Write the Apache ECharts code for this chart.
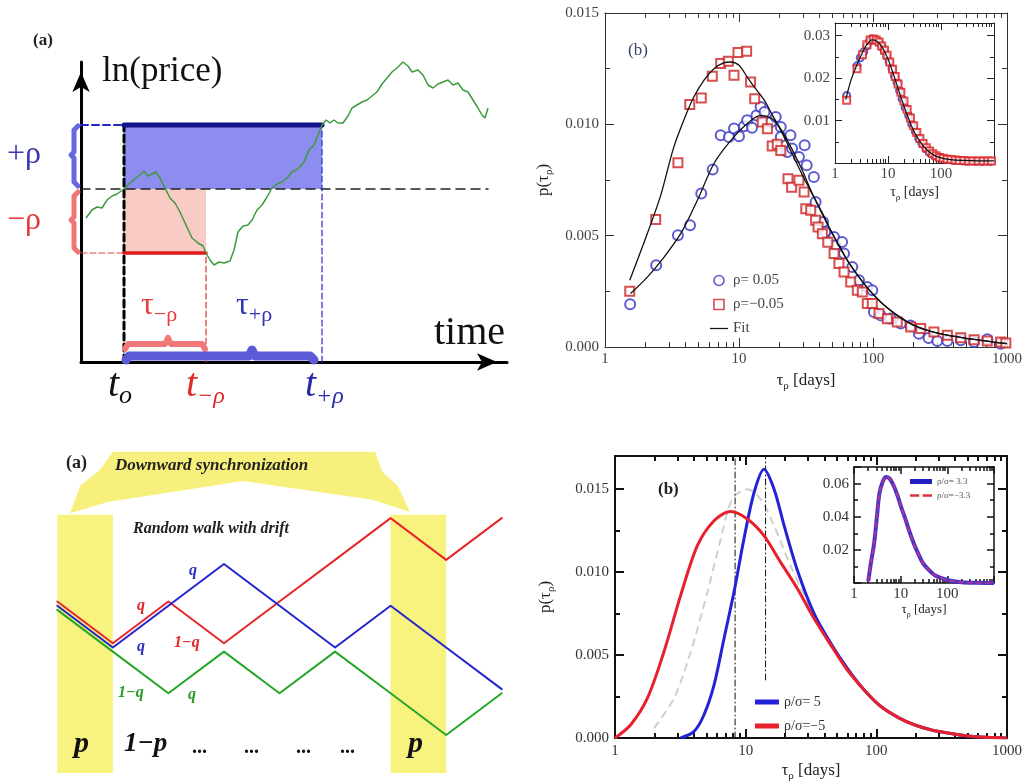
<!DOCTYPE html>
<html>
<head>
<meta charset="utf-8">
<script src="https://cdn.jsdelivr.net/npm/echarts@6/dist/echarts.min.js"></script>
<style>html,body{margin:0;padding:0;background:#fff}#chart{width:1028px;height:783px}</style>
</head>
<body>
<div id="chart"></div>
<script>
var SERIF = "'Liberation Serif', 'DejaVu Serif', serif";

// ---- (a) top: first passage schematic (units: time / ln price)
var pathT = [5,11,16,21,26,31,36,43,49,55,59,63,67,71,75,79,84,89,94,99,105,111,117,122,125,129,133,138,143,149,153,157,162,167,171,176,181,186,191,196,201,206,211,215,219,223,228,233,237,241,245,249,253,257,262,267,271,276,281,286,291,296,301,306,311,316,322,327,331,337,342,347,352,357,362,367,372,377,382,387,392,397,401,404,407];
var pathP = [144,152,155,154,162,166,168,173,179,184,187,191,186,188,190,184,174,164,159,150,137,124,119,116,109,102,97,100,99,101,112,130,136,137,142,152,157,165,174,178,180,184,190,192,195,200,212,217,227,237,242,239,242,239,239,246,254,257,260,262,266,270,278,284,290,294,300,296,290,292,287,277,274,278,280,282,277,279,272,270,262,254,247,244,254];
var t0 = 43, tMinus = 125, tPlus = 241, baseEnd = 407;
var levelBase = 173, levelUp = 237, levelDown = 109;
// braces beside the price axis (offset left of the axis)
var braceUpX = [-3,-7,-7,-10,-7,-7,-3], braceUpY = [236,232,210,207,204,180,176];
var braceDnX = [-3,-7,-7,-10,-7,-7,-3], braceDnY = [170,166,145,142,139,114,110];
var braceTauMinusX = [44,47,84,87,90,121,124], braceTauMinusY = [13,18,18,24,18,18,13];
var braceTauPlusX = [45,48,168,171,174,229,233], braceTauPlusY = [2,6,6,12,6,6,2];

// ---- (b) top: empirical inverse statistics
var posTau = [1.54,2.41,3.5,4.31,5.23,6.36,7.3,8.4,9.18,10,10.9,11.5,12.5,13.5,14.5,15.5,17.3,18.8,20.5,20.5,22.9,24.2,24.9,28,30.9,32,36.2,37.3,42.4,44,51.2,52.6,58.8,60.8,70,78.6,90.6,98.8,101.6,114,135,161,191,220,260,302,359,452,568,713,897];
var posP = [0.00192,0.00367,0.00502,0.00547,0.00689,0.00797,0.00951,0.00943,0.00981,0.00946,0.00991,0.01018,0.00985,0.0104,0.01078,0.01055,0.0101,0.01033,0.00988,0.00943,0.00876,0.00951,0.00891,0.00853,0.00906,0.00816,0.00763,0.00651,0.00561,0.00516,0.00494,0.00457,0.00472,0.0042,0.00359,0.003,0.00269,0.00255,0.00157,0.00142,0.00128,0.00105,0.00096,0.0006,0.0004,0.00027,0.00027,0.0003,0.00022,0.00035,0.00015];
var negTau = [1.53,2.39,3.5,4.29,5.23,6.32,7.3,8.32,9.18,9.83,11.4,12.2,13.1,14.9,16.3,17.7,19.3,20.5,23.2,24.7,28,30.6,31.5,34.3,37.3,38.9,41.9,46,51.2,55.7,60.8,68.2,76.4,83.2,90.7,98.8,110.9,128,151.8,191,227,285,359,452,568,713,897,980];
var negP = [0.0025,0.00573,0.00828,0.01089,0.01118,0.01216,0.01273,0.01283,0.0122,0.01323,0.01328,0.0119,0.01115,0.0101,0.0098,0.00903,0.0091,0.00883,0.00756,0.00718,0.00749,0.00696,0.00621,0.00614,0.00569,0.00539,0.00509,0.0047,0.0042,0.00375,0.00337,0.00292,0.00255,0.00247,0.00195,0.00195,0.0015,0.00127,0.00112,0.0009,0.00083,0.00067,0.00053,0.00042,0.00033,0.00027,0.00022,0.00018];
var fitNegTau = [1.53,2.07,2.6,3.27,4,4.6,5.5,6.5,7.6,8.7,10,11.5,13.3,15.4,17.8,20.5,23.5,27,31,36.2,42,48.3,56,64.2,74,85.6,99,114,132,151.8,175,202,270,359,480,636,800,1000];
var fitNegP = [0.003,0.0051,0.0068,0.009,0.0104,0.01123,0.012,0.0125,0.01275,0.0128,0.01265,0.01213,0.0116,0.0111,0.0104,0.00973,0.009,0.00824,0.0075,0.00674,0.006,0.00524,0.00455,0.0039,0.00335,0.00285,0.0024,0.00202,0.0017,0.00142,0.00118,0.00097,0.0007,0.00053,0.0004,0.0003,0.00022,0.00015];
var fitPosTau = [1.55,2.07,2.76,3.68,4.89,6.5,8.7,11.5,14.5,18.3,22.9,28.9,36.2,48.3,64.2,85.6,114,151.8,202,270,359,480,636,800,1000];
var fitPosP = [0.0024,0.00314,0.00404,0.0051,0.00659,0.00824,0.00928,0.01003,0.0104,0.01018,0.00928,0.00808,0.00674,0.00524,0.0039,0.00285,0.00202,0.00142,0.00097,0.0007,0.00053,0.0004,0.0003,0.00022,0.00015];
// inset
var inPosTau = [1.66,2.6,3.0,3.5,4.0,4.5,4.97,5.5,6.2,6.9,7.7,8.5,9.5,10.5,11.9,13.2,14.8,16.5,18.4,21,24.5,28,32.7,38,43.6,52,62.9,75,96,120,173,250,310,450,600,880];
var inPosP = [0.0159,0.0229,0.0248,0.0262,0.0276,0.0287,0.0292,0.0291,0.0289,0.0283,0.0274,0.0265,0.0252,0.0238,0.0222,0.0205,0.019,0.0171,0.0151,0.0131,0.0112,0.0092,0.0074,0.0058,0.0046,0.0033,0.0023,0.0017,0.0012,0.0009,0.0006,0.0005,0.0004,0.0004,0.0004,0.0004];
var inNegTau = [1.66,2.6,3.3,4.0,4.6,5.3,6.0,6.8,7.6,8.6,9.6,10.8,12.2,13.7,15.5,17.5,20,23,26.5,30.5,35,40,46,53,61,70,81,94,110,130,155,185,220,270,330,400,500,620,760,900];
var inNegP = [0.0148,0.0222,0.0255,0.0279,0.029,0.0292,0.029,0.0285,0.0276,0.0266,0.0254,0.0238,0.0221,0.0204,0.0186,0.0167,0.0146,0.0126,0.0106,0.0088,0.0072,0.0058,0.0046,0.0036,0.0028,0.0022,0.0017,0.0013,0.0011,0.0009,0.0008,0.0007,0.0006,0.0006,0.0005,0.0005,0.0005,0.0005,0.0005,0.0005];
var inFitTau = [1.6,2,2.6,3.2,4,5,6,7.5,10,13,17,22,30,40,55,75,100,150,250,500,1000];
var inFitP = [0.015,0.0195,0.0232,0.0257,0.0279,0.029,0.0288,0.0276,0.0245,0.0205,0.016,0.012,0.0078,0.0051,0.003,0.0018,0.0012,0.0008,0.0006,0.0005,0.0005];

// ---- (a) bottom: random walks (units: lattice steps)
var walkX = [0,1,2,3,4,5,6,7,8];
var redWalk = [3.2,2.2,3.2,2.2,3.2,4.2,5.2,4.2,5.2];
var blueWalk = [3.1,2.1,3.1,4.1,3.1,2.1,3.1,2.1,1.1];
var greenWalk = [3,2,1,2,1,2,1,0,1];
var bandX = [[0,1],[6,7]];
var bandY = [-0.91, 5.28];
var bannerX = [1.0,5.72,5.85,6.13,6.35,5.67,3.34,0.91,0.23,0.41,0.77];
var bannerY = [6.79,6.79,6.31,5.97,5.35,5.64,6.09,5.59,5.32,5.97,6.36];

// ---- (b) bottom: model curves
var redTau = [1,1.32,1.77,2.37,3.18,4.27,5.73,7.68,10.3,13.8,18.5,24.9,33.4,44.9,60,80.7,108.5,150,195,260,352,500,700,1000];
var redP = [0,0.0008,0.0024,0.0052,0.0086,0.0116,0.0131,0.01365,0.0132,0.0122,0.0106,0.009,0.0072,0.0056,0.0041,0.0029,0.0019,0.0012,0.0008,0.0005,0.0003,0.00012,0.00004,0];
var blueTau = [3.18,4.03,4.8,5.73,6.83,8.14,9.7,11.6,13.8,16.5,19.7,24.9,33.4,44.9,60,80.7,108.5,150,195,260,352,500,700,1000];
var blueP = [0,0.0004,0.0014,0.0032,0.006,0.0088,0.012,0.0148,0.0162,0.015,0.0128,0.0101,0.0075,0.0057,0.0042,0.0029,0.0019,0.0012,0.0008,0.0005,0.0003,0.00012,0.00004,0];
var grayTau = [1.99,2.83,3.8,5.1,6.45,7.9,10.3,13,16.5,22,33.4,44.9,60,80.7,108.5,150,195,260,352,500,1000];
var grayP = [0.0006,0.0024,0.0052,0.0088,0.012,0.0144,0.015,0.0144,0.0128,0.0104,0.0074,0.0056,0.0041,0.0029,0.0019,0.0012,0.0008,0.0005,0.0003,0.00012,0];
var vlineTau = [8.3, 14.2];
var vlineLow = [0, 0.0035];
var insetBTau = [2.02,2.3,2.7,3.1,3.5,4.1,4.8,5.8,7.0,8.5,10.2,12.5,15,19,23.5,30,40,55,75,110,200,400,1000];
var insetBP = [0.001,0.012,0.024,0.04,0.054,0.061,0.064,0.063,0.059,0.053,0.046,0.039,0.032,0.024,0.018,0.012,0.008,0.0045,0.003,0.0015,0.0004,0.0001,0];

var minorTicks = [2,3,4,5,6,7,8,9,20,30,40,50,60,70,80,90,200,300,400,500,600,700,800,900];

function zip(a, b) { return a.map(function (v, i) { return [v, b[i]]; }); }

var xAxis = [], yAxis = [];
var off = {show: false};

// schematic axes
xAxis.push({gridIndex: 0, type: 'value', min: 0, max: 426,
  axisLine: {show: true, onZero: false, symbol: ['none', 'arrow'], symbolSize: [13, 20], symbolOffset: [0, -10], lineStyle: {color: '#000', width: 3}},
  axisTick: off, axisLabel: off, splitLine: off});
yAxis.push({gridIndex: 0, type: 'value', min: 0, max: 300,
  axisLine: {show: true, onZero: false, symbol: ['none', 'arrow'], symbolSize: [13, 20], symbolOffset: [0, -10], lineStyle: {color: '#000', width: 3}},
  axisTick: off, axisLabel: off, splitLine: off});
xAxis.push({gridIndex: 3, type: 'value', min: 0, max: 8.5, show: false});
yAxis.push({gridIndex: 3, type: 'value', min: -1, max: 7, show: false});

function tauName(size, sub) {
  return {t: {fontSize: size, fontFamily: SERIF, color: '#222', verticalAlign: 'middle', lineHeight: size + 6},
          s: {fontSize: sub, fontFamily: SERIF, color: '#222', verticalAlign: 'bottom', lineHeight: size + 6}};
}

function frame(gi, o) {
  var xi = xAxis.length, yi = yAxis.length;
  var ls = {color: o.color, width: o.lw};
  var line = {show: true, onZero: false, lineStyle: ls};
  var lab = {fontFamily: SERIF, fontSize: o.fs, color: o.labColor, margin: o.xMargin,
    formatter: function (v) { return (o.hideMax && v >= o.xmax) ? '' : String(v); }};
  xAxis.push({gridIndex: gi, type: 'log', logBase: 10, min: o.xmin, max: o.xmax, position: 'bottom',
    axisLine: line, axisTick: {inside: true, length: o.major, lineStyle: ls}, axisLabel: lab, splitLine: off,
    name: o.xName, nameLocation: 'middle', nameGap: o.xGap, nameTextStyle: {rich: tauName(o.nameFs, o.nameSub)}});
  xAxis.push({gridIndex: gi, type: 'log', logBase: 10, min: o.xmin, max: o.xmax, position: 'top',
    axisLine: line, axisTick: {inside: true, length: o.major, lineStyle: ls}, axisLabel: off, splitLine: off});
  ['bottom', 'top'].forEach(function (pos) {
    xAxis.push({gridIndex: gi, type: 'value', min: 0, max: 3, position: pos,
      axisLine: {show: false, onZero: false},
      axisTick: {inside: true, length: o.minor, lineStyle: ls, customValues: minorTicks.map(Math.log10)},
      axisLabel: off, splitLine: off});
  });
  var yfmt = function (v) {
    var ok = o.yLabels.some(function (t) { return Math.abs(t - v) < 1e-9; });
    return ok ? v.toFixed(o.yDec) : '';
  };
  yAxis.push({gridIndex: gi, type: 'value', min: o.ymin, max: o.ymax, interval: o.yint, position: 'left',
    axisLine: line, axisTick: {inside: true, length: o.major, lineStyle: ls},
    minorTick: {show: true, splitNumber: 2, length: o.minor, lineStyle: ls},
    axisLabel: {fontFamily: SERIF, fontSize: o.fs, color: o.labColor, margin: o.yMargin, formatter: yfmt},
    splitLine: off, minorSplitLine: off,
    name: o.yName, nameLocation: 'middle', nameGap: o.yGap, nameTextStyle: {rich: tauName(o.nameFs, o.nameSub)}});
  yAxis.push({gridIndex: gi, type: 'value', min: o.ymin, max: o.ymax, interval: o.yint, position: 'right',
    axisLine: line, axisTick: {inside: true, length: o.major, lineStyle: ls},
    minorTick: {show: true, splitNumber: 2, length: o.minor, lineStyle: ls},
    axisLabel: off, splitLine: off, minorSplitLine: off});
  return {x: xi, y: yi};
}

var fTop = frame(1, {xmin: 1, xmax: 1000, ymin: 0, ymax: 0.015, yint: 0.005, yLabels: [0, 0.005, 0.01, 0.015], yDec: 3,
  color: '#333', lw: 1, major: 9, minor: 5, fs: 15, labColor: '#444', xMargin: 5, yMargin: 6,
  xName: '{t|τ}{s|ρ}{t| [days]}', xGap: 22, yName: '{t|p(τ}{s|ρ}{t|)}', yGap: 50, nameFs: 17, nameSub: 11});
var fTopIn = frame(2, {xmin: 1, xmax: 1000, ymin: 0, ymax: 0.033, yint: 0.01, yLabels: [0.01, 0.02, 0.03], yDec: 2,
  color: '#222', lw: 1, major: 7, minor: 4, fs: 15, labColor: '#444', xMargin: 4, yMargin: 5, hideMax: true,
  xName: '{t|τ}{s|ρ}{t| [days]}', xGap: 19, nameFs: 14, nameSub: 9});
var fBot = frame(4, {xmin: 1, xmax: 1000, ymin: 0, ymax: 0.017, yint: 0.005, yLabels: [0, 0.005, 0.01, 0.015], yDec: 3,
  color: '#111', lw: 2, major: 9, minor: 5, fs: 15, labColor: '#333', xMargin: 6, yMargin: 6,
  xName: '{t|τ}{s|ρ}{t| [days]}', xGap: 21, yName: '{t|p(τ}{s|ρ}{t|)}', yGap: 58, nameFs: 17, nameSub: 11});
var fBotIn = frame(5, {xmin: 1, xmax: 1000, ymin: 0, ymax: 0.07, yint: 0.02, yLabels: [0.02, 0.04, 0.06], yDec: 2,
  color: '#111', lw: 1.5, major: 7, minor: 4, fs: 15, labColor: '#333', xMargin: 4, yMargin: 5, hideMax: true,
  xName: '{t|τ}{s|ρ}{t| [days]}', xGap: 14, nameFs: 13, nameSub: 8});

// strip left of the price axis, same vertical scale, for the ±ρ braces
var braceX = xAxis.length, braceY = yAxis.length;
xAxis.push({gridIndex: 6, type: 'value', min: -21, max: 0, show: false});
yAxis.push({gridIndex: 6, type: 'value', min: 0, max: 300, show: false});

function seg(xi, yi, pts, color, width, type, z) {
  return {type: 'line', xAxisIndex: xi, yAxisIndex: yi, data: pts, symbol: 'none', silent: true, clip: false,
    lineStyle: {color: color, width: width, type: type || 'solid', cap: 'round', join: 'round'}, z: z || 3};
}
function rectSeries(xi, yi, data, colors, z) {
  return {type: 'custom', xAxisIndex: xi, yAxisIndex: yi, data: data, silent: true, z: z || 1, clip: false,
    renderItem: function (p, api) {
      var a = api.coord([api.value(0), api.value(1)]);
      var b = api.coord([api.value(2), api.value(3)]);
      return {type: 'rect', shape: {x: Math.min(a[0], b[0]), y: Math.min(a[1], b[1]), width: Math.abs(b[0] - a[0]), height: Math.abs(b[1] - a[1])},
        style: {fill: colors[api.value(4)]}};
    }};
}

var series = [];
// ---- top-left schematic
series.push(rectSeries(0, 0, [[t0, levelBase, tPlus, levelUp, 0], [t0, levelDown, tMinus, levelBase, 1]], ['#8d8def', '#f8ccc5']));
series.push(seg(0, 0, [[0, levelBase], [baseEnd, levelBase]], '#222', 1.5, [9, 6]));
series.push(seg(0, 0, [[0, levelUp], [t0, levelUp]], '#2626c8', 2, [7, 4]));
series.push(seg(0, 0, [[0, levelDown], [t0, levelDown]], '#e04848', 1.2, [6, 3]));
series.push(seg(0, 0, [[t0, 0], [t0, levelUp]], '#000', 3, [7, 4]));
series.push(seg(0, 0, [[tMinus, 0], [tMinus, levelDown]], '#e03030', 1.2, [6, 3]));
series.push(seg(0, 0, [[tPlus, 0], [tPlus, levelUp]], '#2a2ad0', 1.2, [6, 3]));
series.push(seg(0, 0, [[t0, levelUp], [tPlus, levelUp]], '#12128a', 5));
series.push(seg(0, 0, [[t0, levelDown], [tMinus, levelDown]], '#e01818', 3.5));
// braces
series.push(seg(braceX, braceY, zip(braceUpX, braceUpY), '#6767de', 5));
series.push(seg(braceX, braceY, zip(braceDnX, braceDnY), '#f07676', 5));
series.push(seg(0, 0, zip(braceTauMinusX, braceTauMinusY), '#f07878', 6));
series.push(seg(0, 0, zip(braceTauPlusX, braceTauPlusY), '#5b5bd8', 9));
series.push({type: 'line', xAxisIndex: 0, yAxisIndex: 0, data: zip(pathT, pathP), symbol: 'none', silent: true, clip: false,
  lineStyle: {color: '#3d9a3d', width: 1.5}, z: 4});

// ---- top-right data
var T = fTop, TI = fTopIn;
series.push({name: 'ρ= 0.05', type: 'scatter', xAxisIndex: T.x, yAxisIndex: T.y, data: zip(posTau, posP),
  symbol: 'emptyCircle', symbolSize: 10, itemStyle: {color: '#3333c4', borderWidth: 1.3}, z: 3});
series.push({name: 'ρ=−0.05', type: 'scatter', xAxisIndex: T.x, yAxisIndex: T.y, data: zip(negTau, negP),
  symbol: 'emptyRect', symbolSize: 9, itemStyle: {color: '#cc2222', borderWidth: 1.3}, z: 3});
series.push({name: 'Fit', type: 'line', xAxisIndex: T.x, yAxisIndex: T.y, data: zip(fitNegTau, fitNegP), symbol: 'none', smooth: 0.3,
  lineStyle: {color: '#111', width: 1.3}, itemStyle: {color: '#111'}, z: 4});
series.push({name: 'Fit', type: 'line', xAxisIndex: T.x, yAxisIndex: T.y, data: zip(fitPosTau, fitPosP), symbol: 'none', smooth: 0.3,
  lineStyle: {color: '#111', width: 1.3}, itemStyle: {color: '#111'}, z: 4});
series.push({type: 'scatter', xAxisIndex: TI.x, yAxisIndex: TI.y, data: zip(inPosTau, inPosP),
  symbol: 'emptyCircle', symbolSize: 7, itemStyle: {color: '#3333c4', borderWidth: 1.2}, z: 3});
series.push({type: 'scatter', xAxisIndex: TI.x, yAxisIndex: TI.y, data: zip(inNegTau, inNegP),
  symbol: 'emptyRect', symbolSize: 7, itemStyle: {color: '#dd2222', borderWidth: 1.3}, z: 3});
series.push({type: 'line', xAxisIndex: TI.x, yAxisIndex: TI.y, data: zip(inFitTau, inFitP), symbol: 'none', smooth: 0.3,
  lineStyle: {color: '#111', width: 1.2}, z: 4});

// ---- bottom-left schematic
var bandRects = bandX.map(function (b) { return [b[0], bandY[0], b[1], bandY[1], 0]; });
series.push(rectSeries(1, 1, bandRects, ['#f8f27e'], 1));
series.push({type: 'custom', xAxisIndex: 1, yAxisIndex: 1, data: [[bannerX[0], bannerY[0]]], silent: true, z: 1, clip: false,
  renderItem: function (p, api) {
    var pts = bannerX.map(function (x, i) { return api.coord([x, bannerY[i]]); });
    return {type: 'polygon', shape: {points: pts}, style: {fill: '#f8f07c'}};
  }});
series.push(seg(1, 1, zip(walkX, redWalk), '#e8262a', 2));
series.push(seg(1, 1, zip(walkX, blueWalk), '#2424d0', 2));
series.push(seg(1, 1, zip(walkX, greenWalk), '#26a626', 2));

// ---- bottom-right data
var B = fBot, BI = fBotIn;
series.push({type: 'line', xAxisIndex: B.x, yAxisIndex: B.y, data: zip(grayTau, grayP), symbol: 'none', smooth: 0.3,
  lineStyle: {color: '#cfcfcf', width: 2, type: [8, 5]}, z: 2});
vlineTau.forEach(function (t, i) {
  series.push(seg(B.x, B.y, [[t, vlineLow[i]], [t, 0.017]], '#111', 1, [6, 3, 1, 3], 2));
});
series.push({name: 'ρ/σ= 5', type: 'line', xAxisIndex: B.x, yAxisIndex: B.y, data: zip(blueTau, blueP), symbol: 'none', smooth: 0.3,
  lineStyle: {color: '#2222d8', width: 3}, itemStyle: {color: '#2222d8'}, z: 3});
series.push({name: 'ρ/σ=−5', type: 'line', xAxisIndex: B.x, yAxisIndex: B.y, data: zip(redTau, redP), symbol: 'none', smooth: 0.3,
  lineStyle: {color: '#e8202c', width: 3}, itemStyle: {color: '#e8202c'}, z: 4});
series.push({name: 'ρ/σ= 3.3', type: 'line', xAxisIndex: BI.x, yAxisIndex: BI.y, data: zip(insetBTau, insetBP), symbol: 'none', smooth: 0.3,
  lineStyle: {color: '#4a34c4', width: 4}, itemStyle: {color: '#2020c0'}, z: 3});
series.push({name: 'ρ/σ=−3.3', type: 'line', xAxisIndex: BI.x, yAxisIndex: BI.y, data: zip(insetBTau, insetBP), symbol: 'none', smooth: 0.3,
  lineStyle: {color: '#d0308c', width: 1.5, type: [6, 3]}, itemStyle: {color: '#e03040'}, z: 4});

function txt(x, y, text, font, fill, extra) {
  var s = {text: text, font: font, fill: fill || '#111', textAlign: 'left', textVerticalAlign: 'middle'};
  if (extra) for (var k in extra) s[k] = extra[k];
  return {type: 'text', x: x, y: y, style: s, z: 50, silent: true};
}
function richTxt(x, y, text, rich) {
  return {type: 'text', x: x, y: y, z: 50, silent: true, style: {text: text, rich: rich, textAlign: 'left', textVerticalAlign: 'middle'}};
}
function subRich(big, small, color, italic) {
  var st = italic ? 'italic' : 'normal';
  return {a: {fontSize: big, fontFamily: SERIF, fontStyle: st, fill: color, color: color, verticalAlign: 'middle', lineHeight: big + 8},
          b: {fontSize: small, fontFamily: SERIF, fontStyle: st, fill: color, color: color, verticalAlign: 'bottom', lineHeight: big + 8}};
}
var BI_FONT = 'italic bold ';
var graphic = [
  txt(33, 41, '(a)', 'bold 17px ' + SERIF, '#222'),
  txt(102, 72, 'ln(price)', '35px ' + SERIF, '#111'),
  txt(7, 155, '+ρ', '32px ' + SERIF, '#3838b0'),
  txt(7, 221, '−ρ', '32px ' + SERIF, '#e23a3a'),
  richTxt(141, 306, '{a|τ}{b|−ρ}', subRich(32, 22, '#ee3a3a', false)),
  richTxt(236, 306, '{a|τ}{b|+ρ}', subRich(32, 22, '#3333b8', false)),
  txt(434, 333, 'time', '40px ' + SERIF, '#111'),
  richTxt(108, 385, '{a|t}{b|o}', subRich(40, 26, '#111', true)),
  richTxt(186, 385, '{a|t}{b|−ρ}', subRich(40, 24, '#e02a2a', true)),
  richTxt(305, 385, '{a|t}{b|+ρ}', subRich(40, 24, '#2a2aa8', true)),

  txt(628, 51, '(b)', '17px ' + SERIF, '#3a4470'),

  txt(66, 463, '(a)', 'bold 18px ' + SERIF, '#222'),
  txt(115, 466, 'Downward synchronization', BI_FONT + '17px ' + SERIF, '#222'),
  txt(133, 529, 'Random walk with drift', BI_FONT + '16px ' + SERIF, '#222'),
  txt(189, 571, 'q', BI_FONT + '16px ' + SERIF, '#3030c0'),
  txt(137, 606, 'q', BI_FONT + '16px ' + SERIF, '#e02828'),
  txt(137, 647, 'q', BI_FONT + '16px ' + SERIF, '#3030c0'),
  txt(174, 643, '1−q', BI_FONT + '16px ' + SERIF, '#e02828'),
  txt(118, 693, '1−q', BI_FONT + '16px ' + SERIF, '#2a9a2a'),
  txt(188, 695, 'q', BI_FONT + '16px ' + SERIF, '#2a9a2a'),
  txt(74, 744, 'p', BI_FONT + '30px ' + SERIF, '#111'),
  txt(124, 744, '1−p', BI_FONT + '27px ' + SERIF, '#111'),
  txt(192, 748, '...', 'bold 20px ' + SERIF, '#111'),
  txt(244, 748, '...', 'bold 20px ' + SERIF, '#111'),
  txt(296, 748, '...', 'bold 20px ' + SERIF, '#111'),
  txt(340, 748, '...', 'bold 20px ' + SERIF, '#111'),
  txt(408, 744, 'p', BI_FONT + '30px ' + SERIF, '#111'),

  txt(658, 490, '(b)', 'bold 17px ' + SERIF, '#222')
];

var chart = echarts.init(document.getElementById('chart'));
chart.setOption({
  animation: false,
  backgroundColor: '#fff',
  grid: [
    {left: 81, top: 62, width: 426, height: 300},
    {left: 605, top: 13, width: 402, height: 334},
    {left: 835, top: 23, width: 159, height: 140},
    {left: 57.3, top: 443.1, width: 472.2, height: 333.6},
    {left: 615, top: 456, width: 392, height: 284},
    {left: 854, top: 467, width: 140, height: 116},
    {left: 60, top: 62, width: 21, height: 300}
  ],
  xAxis: xAxis,
  yAxis: yAxis,
  legend: [
    {data: [
        {name: 'ρ= 0.05', icon: 'circle', itemStyle: {color: '#fff', borderColor: '#3333c4', borderWidth: 1.6}},
        {name: 'ρ=−0.05', icon: 'path://M0,0H10V10H0Z', itemStyle: {color: '#fff', borderColor: '#cc2222', borderWidth: 1.6}},
        {name: 'Fit', icon: 'path://M0,0H20V1.4H0Z', itemStyle: {color: '#111', borderWidth: 0}}
      ], orient: 'vertical', left: 705, top: 268, itemWidth: 18, itemHeight: 10, itemGap: 9,
      textStyle: {fontFamily: SERIF, fontSize: 15, color: '#444'}, selectedMode: false},
    {data: [
        {name: 'ρ/σ= 5', icon: 'path://M0,0H24V5H0Z'},
        {name: 'ρ/σ=−5', icon: 'path://M0,0H24V5H0Z'}
      ], orient: 'vertical', left: 750, top: 690, itemWidth: 24, itemHeight: 5, itemGap: 10,
      textStyle: {fontFamily: SERIF, fontSize: 14, color: '#333'}, selectedMode: false},
    {data: [
        {name: 'ρ/σ= 3.3', icon: 'path://M0,0H22V5H0Z', itemStyle: {color: '#2020c0'}},
        {name: 'ρ/σ=−3.3', icon: 'path://M0,0H8V2H0Z M11,0H19V2H11Z', itemStyle: {color: '#e03040'}}
      ], orient: 'vertical', left: 905, top: 472, itemWidth: 22, itemHeight: 5, itemGap: 5,
      textStyle: {fontFamily: SERIF, fontSize: 9, color: '#555'}, selectedMode: false}
  ],
  series: series,
  graphic: graphic
});
window.addEventListener('resize', function () { chart.resize(); });
</script>
</body>
</html>
